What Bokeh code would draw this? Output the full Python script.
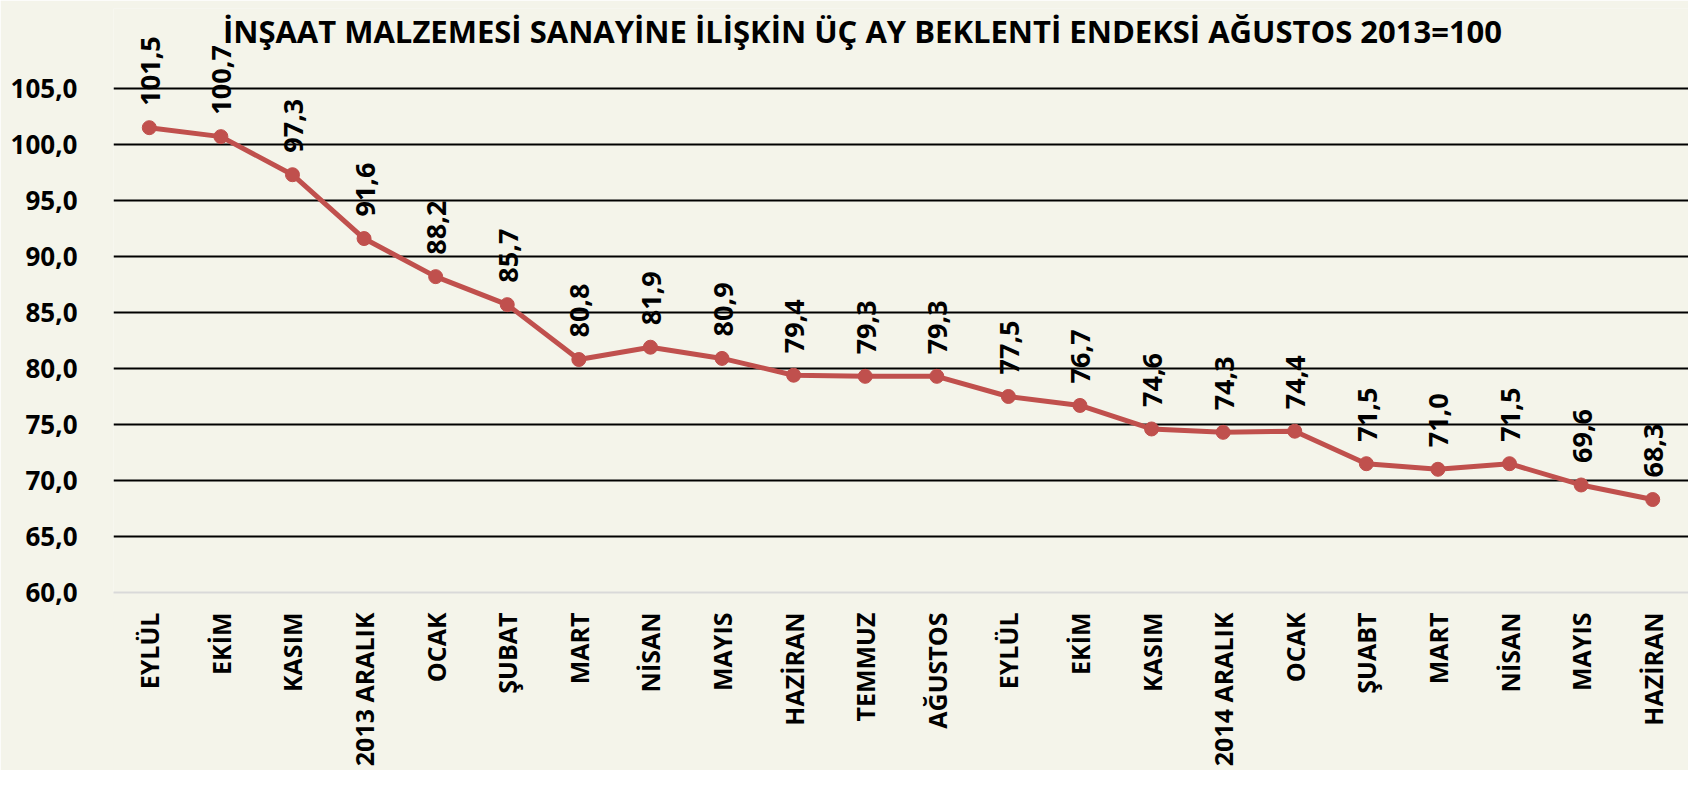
from bokeh.plotting import figure
from bokeh.models import ColumnDataSource, FixedTicker, Label, Range1d
from bokeh.core.properties import value
from bokeh.embed import file_html
from bokeh.resources import INLINE
import math

title_text = "İNŞAAT MALZEMESİ SANAYİNE İLİŞKİN ÜÇ AY BEKLENTİ ENDEKSİ AĞUSTOS 2013=100"
months = ["EYLÜL", "EKİM", "KASIM", "2013 ARALIK", "OCAK", "ŞUBAT", "MART", "NİSAN",
          "MAYIS", "HAZİRAN", "TEMMUZ", "AĞUSTOS", "EYLÜL", "EKİM", "KASIM",
          "2014 ARALIK", "OCAK", "ŞUABT", "MART", "NİSAN", "MAYIS", "HAZİRAN"]
values = [101.5, 100.7, 97.3, 91.6, 88.2, 85.7, 80.8, 81.9, 80.9, 79.4, 79.3,
          79.3, 77.5, 76.7, 74.6, 74.3, 74.4, 71.5, 71.0, 71.5, 69.6, 68.3]
y_ticks = [60, 65, 70, 75, 80, 85, 90, 95, 100, 105]

FONT = "Open Sans"
RED = "#C0504D"
BG = "#F4F4EA"

xs = list(range(len(months)))
labels = [f"{v:.1f}".replace(".", ",") for v in values]
src = ColumnDataSource(dict(x=xs, y=values, lab=labels))

p = figure(width=1688, height=770, output_backend="svg", toolbar_location=None,
           x_range=Range1d(-0.5, len(months) - 0.5), y_range=Range1d(60, 112.14),
           min_border_left=113, min_border_right=0, min_border_top=8,
           min_border_bottom=178)
p.background_fill_color = BG
p.border_fill_color = BG
p.outline_line_color = None

p.xgrid.grid_line_color = None
p.ygrid.ticker = FixedTicker(ticks=y_ticks[1:])
p.ygrid.grid_line_color = "black"
p.ygrid.grid_line_width = 2

p.yaxis.ticker = FixedTicker(ticks=y_ticks)
p.yaxis.major_label_overrides = {t: f"{t:.1f}".replace(".", ",") for t in y_ticks}
p.yaxis.axis_line_color = None
p.yaxis.major_tick_line_color = None
p.yaxis.minor_tick_line_color = None
p.yaxis.major_label_text_font = FONT
p.yaxis.major_label_text_font_style = "bold"
p.yaxis.major_label_text_font_size = "26px"
p.yaxis.major_label_text_color = "black"
p.yaxis.major_label_standoff = 30

p.xaxis.ticker = FixedTicker(ticks=xs)
p.xaxis.major_label_overrides = {i: m for i, m in enumerate(months)}
p.xaxis.major_label_orientation = math.pi / 2
p.xaxis.axis_line_color = "#D9D9D9"
p.xaxis.axis_line_width = 2
p.xaxis.major_tick_line_color = None
p.xaxis.minor_tick_line_color = None
p.xaxis.major_label_text_font = FONT
p.xaxis.major_label_text_font_style = "bold"
p.xaxis.major_label_text_font_size = "25px"
p.xaxis.major_label_text_color = "black"
p.xaxis.major_label_standoff = 14

p.line("x", "y", source=src, line_color=RED, line_width=5)
p.scatter("x", "y", source=src, size=14, fill_color=RED, line_color=RED)
p.text("x", "y", text="lab", source=src, angle=math.pi / 2, text_align="left",
       text_baseline="middle", y_offset=-22, x_offset=1,
       text_font=value(FONT), text_font_style="bold", text_font_size="27px",
       text_color="black")

p.add_layout(Label(x=749, y=562, x_units="screen", y_units="screen", text=title_text,
                   text_align="center", text_baseline="middle", text_font=FONT,
                   text_font_style="bold", text_font_size="31px", text_color="black"))

open("out.html", "w").write(file_html(p, INLINE))
